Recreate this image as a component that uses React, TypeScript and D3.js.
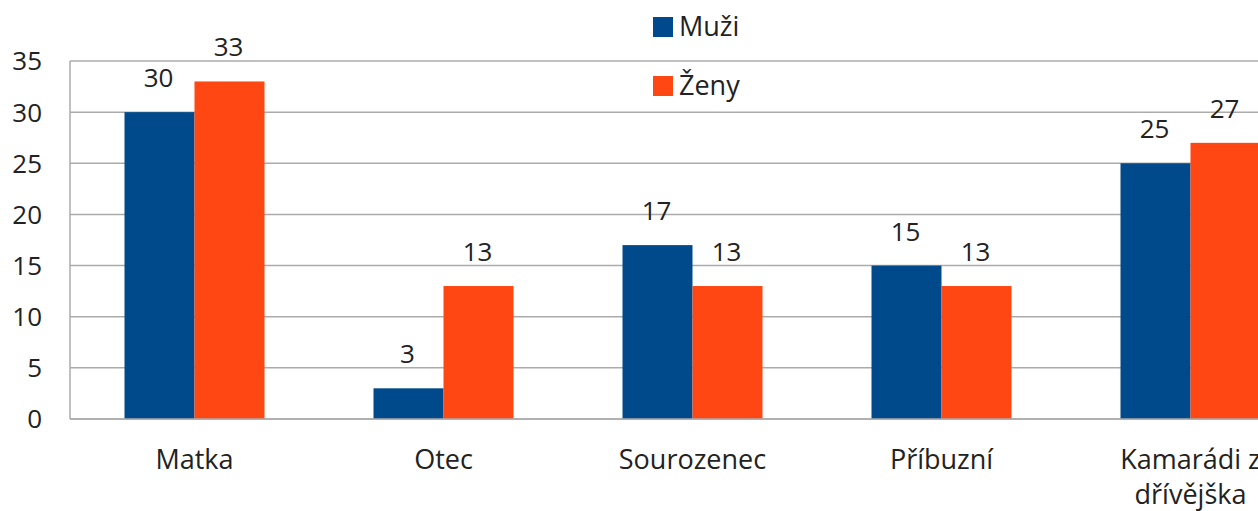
import React from "react";
import * as d3 from "d3";

const categories = ["Matka", "Otec", "Sourozenec", "Příbuzní", "Kamarádi z\ndřívějška"];
const seriesNames = ["Muži", "Ženy"];
const muzi = [30, 3, 17, 15, 25];
const zeny = [33, 13, 13, 13, 27];
const yTicks = [0, 5, 10, 15, 20, 25, 30, 35];
const colors = ["#004A8C", "#FF4713"];

const W = 1258;
const H = 511;
const FONT = "'Open Sans', sans-serif";

export default function App() {
  const left = 70;
  const bandW = 249;
  const x = d3
    .scaleBand<string>()
    .domain(categories)
    .range([left, left + bandW * categories.length])
    .paddingInner(0)
    .paddingOuter(0);
  const y = d3.scaleLinear().domain([0, 35]).range([419, 61]);
  const barW = 70;
  const series = [muzi, zeny];

  return (
    <svg
      width={W}
      height={H}
      style={{ position: "absolute", left: 0, top: 0, background: "#fff" }}
      fontFamily={FONT}
    >
      {yTicks.map((t) => (
        <g key={t}>
          <line x1={left} x2={W} y1={y(t)} y2={y(t)} stroke="#ABABAB" strokeWidth={1.5} />
          <text x={42} y={y(t)} dy="0.36em" textAnchor="end" fontSize={26} fill="#222">
            {t}
          </text>
        </g>
      ))}
      <line x1={left} x2={left} y1={y(35)} y2={y(0)} stroke="#ABABAB" strokeWidth={1.5} />
      {categories.map((c, i) => {
        const cx = (x(c) as number) + x.bandwidth() / 2;
        return (
          <g key={c}>
            {series.map((s, j) => {
              const bx = cx - barW + j * barW;
              return (
                <g key={j}>
                  <rect x={bx} y={y(s[i])} width={barW} height={y(0) - y(s[i])} fill={colors[j]} />
                  <text
                    x={bx + barW / 2 - 1}
                    y={y(s[i]) - 25}
                    textAnchor="middle"
                    fontSize={26}
                    fill="#222"
                  >
                    {s[i]}
                  </text>
                </g>
              );
            })}
            {c.split("\n").map((line, k) => (
              <text key={k} x={cx} y={469 + k * 35} textAnchor="middle" fontSize={27} fill="#222">
                {line}
              </text>
            ))}
          </g>
        );
      })}
      <line x1={left} x2={W} y1={y(0)} y2={y(0)} stroke="#ABABAB" strokeWidth={1.5} />
      {seriesNames.map((n, j) => (
        <g key={n}>
          <rect x={653} y={17 + j * 59} width={20} height={20} fill={colors[j]} />
          <text x={679} y={36 + j * 59} fontSize={27} fill="#222">
            {n}
          </text>
        </g>
      ))}
    </svg>
  );
}
